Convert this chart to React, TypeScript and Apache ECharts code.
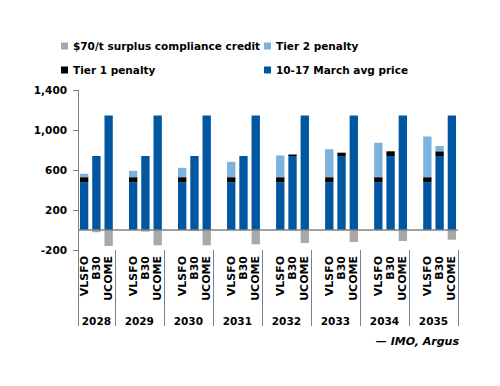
import React, { useEffect, useRef } from "react";
import * as echarts from "echarts";

// ---- data ----
const years = ["2028", "2029", "2030", "2031", "2032", "2033", "2034", "2035"];
const fuels = ["VLSFO", "B30", "UCOME"];

const vlsfoPrice = [478, 478, 478, 478, 478, 478, 478, 478];
const b30Price = [740, 740, 740, 740, 740, 740, 740, 740];
const ucomePrice = [1145, 1145, 1145, 1145, 1145, 1145, 1145, 1145];

const vlsfoTier1 = [50, 50, 50, 50, 50, 50, 50, 50];
const b30Tier1 = [0, 0, 0, 0, 15, 33, 47, 47];
const ucomeTier1 = [0, 0, 0, 0, 0, 0, 0, 0];

const vlsfoTier2 = [34, 64, 94, 154, 217, 280, 344, 407];
const b30Tier2 = [0, 0, 0, 0, 0, 0, 0, 53];
const ucomeTier2 = [0, 0, 0, 0, 0, 0, 0, 0];

const vlsfoCredit = [0, 0, 0, 0, 0, 0, 0, 0];
const b30Credit = [-22, -16, -10, 0, 0, 0, 0, 0];
const ucomeCredit = [-160, -153, -153, -143, -130, -120, -110, -97];

const yTicks = { min: -200, max: 1400, interval: 400 };

const seriesNames = {
  credit: "$70/t surplus compliance credit",
  tier2: "Tier 2 penalty",
  tier1: "Tier 1 penalty",
  price: "10-17 March avg price",
};

const colors = {
  price: "#0057a1",
  tier1: "#000000",
  tier2: "#7ab3df",
  credit: "#a8a8a8",
};

// ---- build slot layout: groups of 3 bars, a blank slot between groups ----
type Slot = { label: string; year: number; fuel: number };
const slots: Slot[] = [];
years.forEach((_, yi) => {
  if (yi > 0) slots.push({ label: "", year: -1, fuel: -1 });
  fuels.forEach((f, fi) => slots.push({ label: f, year: yi, fuel: fi }));
});
const nSlots = slots.length;

const pick = (arrs: number[][]) =>
  slots.map((s) => (s.year < 0 ? null : arrs[s.fuel][s.year]));

const priceData = pick([vlsfoPrice, b30Price, ucomePrice]);
const tier1Data = pick([vlsfoTier1, b30Tier1, ucomeTier1]);
const tier2Data = pick([vlsfoTier2, b30Tier2, ucomeTier2]);
const creditData = pick([vlsfoCredit, b30Credit, ucomeCredit]);

// group spans in slot units (first group has 3 slots, the rest 4)
const groupStart = (g: number) => (g === 0 ? 0 : 3 + (g - 1) * 4);
const groupEnd = (g: number) => 3 + g * 4;
const groupCenters = years.map((_, g) => (groupStart(g) + groupEnd(g)) / 2);
const boundaryIdx = new Set(years.map((_, g) => groupStart(g)));

const FONT = "DejaVu Sans";

const legendText = {
  fontFamily: FONT,
  fontSize: 10.5,
  fontWeight: "bold",
  color: "#000",
  lineHeight: 14,
};

export default function App() {
  const ref = useRef<HTMLDivElement>(null);
  useEffect(() => {
    if (!ref.current) return;
    const chart = echarts.init(ref.current, undefined, { renderer: "svg" });
    const bar = (name: string, data: (number | null)[], color: string, extra: any = {}) => ({
      name,
      type: "bar",
      stack: "all",
      data,
      barWidth: "68%",
      itemStyle: { color },
      xAxisIndex: 0,
      yAxisIndex: 0,
      ...extra,
    });
    chart.setOption({
      animation: false,
      textStyle: { fontFamily: FONT },
      title: {
        text: "— IMO, Argus",
        right: 36,
        top: 331,
        textStyle: {
          fontFamily: FONT,
          fontSize: 11,
          fontStyle: "italic",
          fontWeight: "bold",
          color: "#000",
        },
      },
      legend: [
        {
          data: [seriesNames.credit, seriesNames.tier1],
          orient: "vertical",
          left: 61,
          top: 39,
          padding: 0,
          itemWidth: 7,
          itemHeight: 7,
          itemGap: 10,
          icon: "rect",
          selectedMode: false,
          textStyle: legendText,
        },
        {
          data: [seriesNames.tier2, seriesNames.price],
          orient: "vertical",
          left: 264,
          top: 39,
          padding: 0,
          itemWidth: 7,
          itemHeight: 7,
          itemGap: 10,
          icon: "rect",
          selectedMode: false,
          textStyle: legendText,
        },
      ],
      grid: { left: 78, top: 90, width: 380, height: 160, containLabel: false },
      xAxis: [
        {
          type: "category",
          data: slots.map((s) => s.label),
          position: "bottom",
          axisLine: { show: false, onZero: false },
          axisTick: {
            show: true,
            length: 76,
            interval: (i: number) => boundaryIdx.has(i),
            lineStyle: { color: "#808080", width: 1 },
          },
          axisLabel: {
            interval: 0,
            rotate: 90,
            margin: 6,
            fontFamily: FONT,
            fontSize: 11,
            fontWeight: "bold",
            color: "#000",
          },
          splitLine: { show: false },
        },
        {
          type: "value",
          position: "bottom",
          min: 0,
          max: nSlots,
          interval: 0.5,
          axisLine: { show: false, onZero: false },
          axisTick: { show: false },
          splitLine: { show: false },
          axisLabel: {
            margin: 65,
            fontFamily: FONT,
            fontSize: 10.5,
            fontWeight: "bold",
            color: "#000",
            showMinLabel: false,
            showMaxLabel: false,
            formatter: (v: number) => {
              const g = groupCenters.findIndex((c) => Math.abs(c - v) < 1e-6);
              return g >= 0 ? years[g] : "";
            },
          },
        },
      ],
      yAxis: {
        type: "value",
        min: yTicks.min,
        max: yTicks.max,
        interval: yTicks.interval,
        axisLine: { show: true, lineStyle: { color: "#808080", width: 1 } },
        axisTick: { show: true, length: 5, lineStyle: { color: "#808080" } },
        splitLine: { show: false },
        axisLabel: {
          margin: 11,
          fontFamily: FONT,
          fontSize: 10.5,
          fontWeight: "bold",
          color: "#000",
          formatter: (v: number) => v.toLocaleString("en-US"),
        },
      },
      series: [
        bar(seriesNames.price, priceData, colors.price, {
          markLine: {
            silent: true,
            symbol: "none",
            label: { show: false },
            lineStyle: { color: "#808080", width: 1.5, type: "solid" },
            data: [{ yAxis: 0 }],
          },
        }),
        bar(seriesNames.tier1, tier1Data, colors.tier1),
        bar(seriesNames.tier2, tier2Data, colors.tier2),
        bar(seriesNames.credit, creditData, colors.credit),
      ],
    });
    return () => chart.dispose();
  }, []);
  return (
    <div
      ref={ref}
      style={{ position: "absolute", left: 0, top: 0, width: 500, height: 386, background: "#fff" }}
    />
  );
}
